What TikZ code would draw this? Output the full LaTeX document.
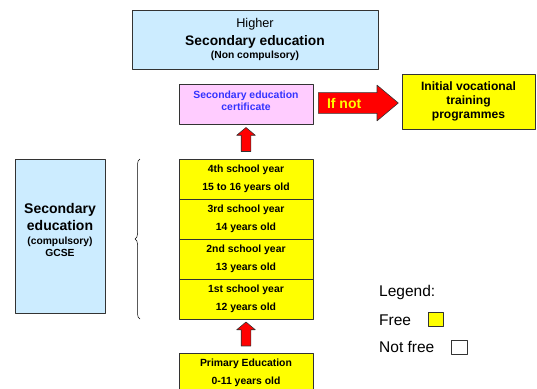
\documentclass[tikz,border=0pt]{standalone}
\usepackage{fontspec}
\setmainfont{Liberation Sans}
\usetikzlibrary{shapes.arrows,decorations.pathreplacing,positioning,calc}
\definecolor{paleblue}{HTML}{CCECFF}
\definecolor{palepink}{HTML}{FFCCFF}
\definecolor{boxyellow}{HTML}{FFFF00}
\definecolor{certblue}{HTML}{3333FF}
\newcommand\fsz[2]{\fontsize{#1}{#2}\selectfont}
\begin{document}
\begin{tikzpicture}[x=1pt, y=-1pt, line join=round,
	box/.style={draw=black!80, line width=0.7pt, inner sep=0pt, outer sep=0pt, align=center},
	yearbox/.style={box, fill=boxyellow, minimum width=134pt, minimum height=40pt, font={\bfseries\fsz{10.4}{18}}},
	redarrow/.style={single arrow, draw=black!80, line width=0.6pt, fill=red},
	uparrow/.style={redarrow, shape border rotate=90, minimum height=24pt, minimum width=18pt, inner sep=4.5pt, single arrow head extend=4.5pt, single arrow tip angle=100},
	legendtext/.style={anchor=base west, inner sep=0pt, font=\fsz{15.5}{15.5}}]
	
	% Khung hình
	\useasboundingbox (0,0) rectangle (537,388);
	\clip (0,0) rectangle (537,388);
	
	% Hộp trên cùng
	\node[box, fill=paleblue, minimum width=246pt, minimum height=59pt, font={\fsz{12.7}{12.6}\lineskiplimit=-20pt}] (higher) at (255,39.5) {Higher\\[5.4pt]{\bfseries\fsz{13.8}{13.8}Secondary education}\\{\bfseries\fsz{10.3}{10.3}(Non compulsory)}};
	
	% Chứng chỉ và đào tạo nghề
	\node[box, fill=palepink, text=certblue, minimum width=134pt, minimum height=40pt, font={\bfseries\fsz{10.4}{12}}, text depth=7pt] (cert) at (246,104) {Secondary education\\certificate};
	\node[box, fill=boxyellow, minimum width=133pt, minimum height=55pt, font={\bfseries\fsz{12.1}{14}}] (voc) at (468.5,101.5) {Initial vocational\\training\\programmes};
	
	% Các năm học
	\node[yearbox] (y4) at (246,179) {4th school year\\15 to 16 years old};
	\node[yearbox, below=0pt of y4] (y3) {3rd school year\\14 years old};
	\node[yearbox, below=0pt of y3] (y2) {2nd school year\\13 years old};
	\node[yearbox, below=0pt of y2] (y1) {1st school year\\12 years old};
	\node[yearbox, below=34pt of y1] (primary) {Primary Education\\0-11 years old};
	
	% Hộp bên trái và ngoặc
	\node[box, fill=paleblue, minimum width=90pt, minimum height=154pt, font={\bfseries\fsz{10.3}{12}\lineskiplimit=-20pt}, text depth=12pt] (gcse) at (60,236) {{\fsz{14}{14}Secondary}\\[5pt]{\fsz{14}{14}education}\\[1.3pt](compulsory)\\GCSE};
	\draw[decorate, decoration={brace, amplitude=5pt}, line width=0.5pt] ($(y1.south west)+(-39,0)$) -- ($(y4.north west)+(-39,0)$);
	
	% Mũi tên
	\node[uparrow] (up1) at ($(cert.south)!0.5!(y4.north)$) {};
	\node[uparrow] (up2) at ($(y1.south)!0.5!(primary.north)$) {};
	\node[redarrow, anchor=tail, minimum height=80pt, minimum width=35pt, inner xsep=2pt, inner ysep=4.9pt, single arrow head extend=7.5pt, single arrow tip angle=80, text=boxyellow, font={\bfseries\fsz{14}{14}}] (ifnot) at ($(cert.east)+(5,-1)$) {If not\hspace*{16pt}};
	
	% Chú thích
	\node[legendtext] (legend) at (379,296.7) {Legend:};
	\node[legendtext] (free) at (379,325) {Free};
	\node[legendtext] (notfree) at (379,352.7) {Not free};
	\node[box, fill=boxyellow, minimum width=15pt, minimum height=14pt, right=17pt of free] (freekey) {};
	\node[box, fill=white, minimum width=16pt, minimum height=14pt, right=17pt of notfree] (notfreekey) {};
\end{tikzpicture}
\end{document}
